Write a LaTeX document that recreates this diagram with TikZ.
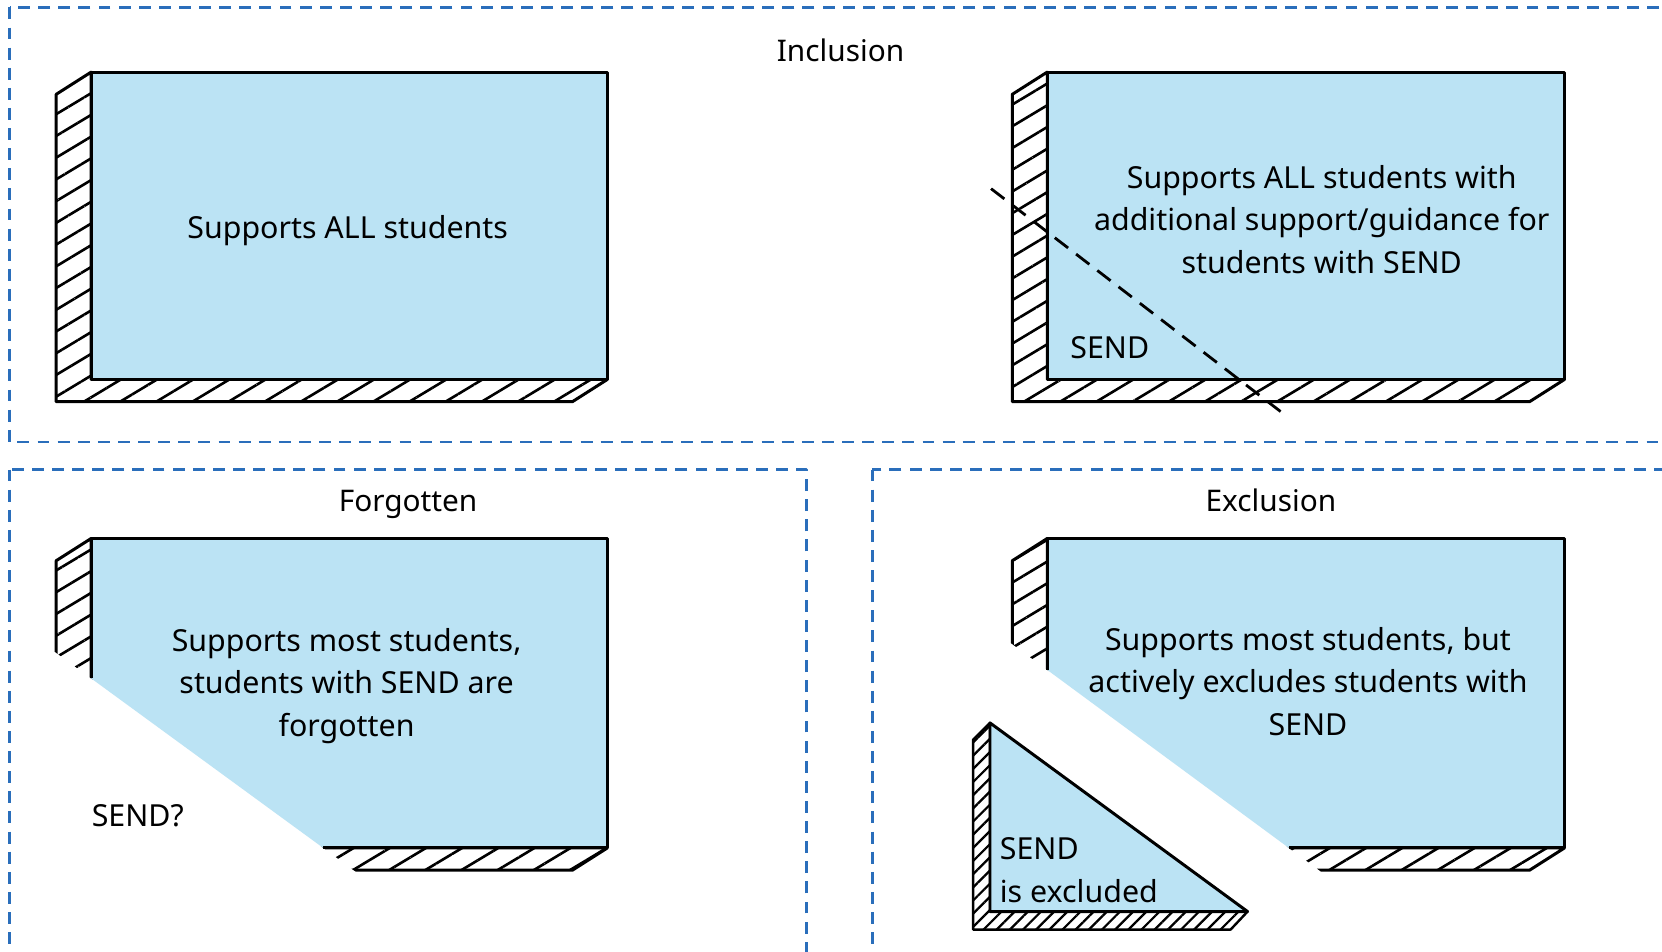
\documentclass[tikz,border=0pt]{standalone}
\usepackage{fontspec}
\setmainfont{Noto Sans}
\usetikzlibrary{patterns.meta}
\definecolor{khungxanh}{RGB}{42,110,187}
\definecolor{nenxanh}{RGB}{187,227,244}

\begin{document}
\begin{tikzpicture}[x=0.02cm, y=-0.02cm, line join=round,
	khung/.style={draw=khungxanh, line width=1.3pt, dash pattern=on 6.4pt off 4.4pt},
	mat/.style={fill=nenxanh},
	vien/.style={draw=black, line width=1.6pt},
	soc/.style={draw=black, line width=1.6pt, pattern={Lines[angle=31, distance=10pt, line width=1.4pt]}},
	socnho/.style={draw=black, line width=1.3pt, pattern={Lines[angle=45, distance=5pt, line width=1.2pt]}},
	duongcat/.style={draw=black, line width=1.5pt, dash pattern=on 9pt off 5.4pt},
	chu/.style={font=\fontsize{16.3}{22.8}\selectfont, align=center, inner sep=0pt},
	tieude/.style={font=\fontsize{16}{18}\selectfont, inner sep=0pt, text height=1.6ex, text depth=0.45ex}]
	
	\useasboundingbox (0,0) rectangle (1568,898);
	\clip (0,0) rectangle (1568,898);
	\fill[white] (0,0) rectangle (1568,898);
	
	% Khung Inclusion
	\draw[khung] (9,7) rectangle (1620,417);
	\node[tieude] (tdInclusion) at (793,53) {Inclusion};
	
	% Hop 1: ho tro tat ca
	\path[soc] (86,68) -- (53,89) -- (53,379) -- (540,379) -- (573,358) -- (86,358) -- cycle;
	\path[mat, vien] (86,68) rectangle (573,358);
	\node[chu] (hop1) at (328,218) {Supports ALL students};
	
	% Hop 2: ho tro them cho SEND
	\path[soc] (988,68) -- (955,89) -- (955,379) -- (1443,379) -- (1476,358) -- (988,358) -- cycle;
	\path[mat, vien] (988,68) rectangle (1476,358);
	\node[chu] (hop2) at (1247,207) {Supports ALL students with\\additional support/guidance for\\students with SEND};
	\node[chu] (send2) at (1047,328) {SEND};
	\coordinate (cat1) at (935,178);
	\coordinate (cat2) at (1213,392);
	\draw[duongcat] (cat1) -- (cat2);
	
	% Khung Forgotten
	\draw[khung] (9,443) rectangle (761,950);
	\node[tieude] (tdForgotten) at (385,477) {Forgotten};
	
	% Hop 3: bi bo quen
	\begin{scope}
		\clip (0,577.2) -- (0,450) -- (760,450) -- (760,900) -- (441.9,900) -- cycle;
		\path[soc] (86,508) -- (53,529) -- (53,821) -- (540,821) -- (573,800) -- (86,800) -- cycle;
	\end{scope}
	\path[mat] (86,508) -- (573,508) -- (573,800) -- (305,800) -- (86,640) -- cycle;
	\draw[vien] (86,640) -- (86,508) -- (573,508) -- (573,800) -- (305,800);
	\node[chu] (hop3) at (327,647) {Supports most students,\\students with SEND are\\forgotten};
	\node[chu] (send3) at (130,770) {SEND?};
	
	% Khung Exclusion
	\draw[khung] (823,443) rectangle (1620,950);
	\node[tieude] (tdExclusion) at (1199,477) {Exclusion};
	
	% Hop 4: loai tru
	\begin{scope}
		\clip (830,515.6) -- (830,450) -- (1568,450) -- (1568,900) -- (1351.7,900) -- cycle;
		\path[soc] (988,508) -- (955,529) -- (955,821) -- (1443,821) -- (1476,800) -- (988,800) -- cycle;
	\end{scope}
	\path[mat] (988,508) -- (1476,508) -- (1476,800) -- (1216,800) -- (988,632) -- cycle;
	\draw[vien] (988,632) -- (988,508) -- (1476,508) -- (1476,800) -- (1216,800);
	\node[chu] (hop4) at (1234,643) {Supports most students, but\\actively excludes students with\\SEND};
	
	% Manh tam giac bi tach ra
	\path[socnho] (934,682) -- (918,698) -- (918,877) -- (1161,877) -- (1177,860) -- (934,860) -- cycle;
	\path[mat, vien] (934,682) -- (934,860) -- (1177,860) -- cycle;
	\node[chu, align=left, anchor=west] (send4) at (943,821) {SEND\\is excluded};
	
\end{tikzpicture}
\end{document}
